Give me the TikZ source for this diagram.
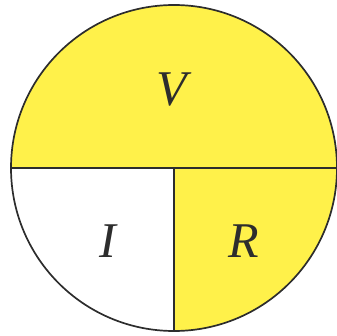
\documentclass[tikz,border=0pt]{standalone}
\usepackage{fontspec}
\setmainfont{Liberation Serif}
\usepackage{tikz}
\usetikzlibrary{positioning, calc}

\definecolor{sunyellow}{RGB}{255,241,74}
\definecolor{rimgray}{RGB}{45,45,45}

\begin{document}
\begin{tikzpicture}[x=1pt, y=1pt]
    % fixed page size
    \useasboundingbox (0, 0) rectangle (337, 335);

    \coordinate (o) at (174, 167);
    \pgfmathsetmacro{\rad}{163}

    % top half (V) and lower right quarter (R)
    \fill[sunyellow] ($(o)+(\rad,0)$) arc (0:180:\rad) -- cycle;
    \fill[sunyellow] (o) -- ($(o)+(\rad,0)$) arc (0:-90:\rad) -- cycle;

    % outline and dividers
    \draw[rimgray, line width=1.7pt] (o) circle (\rad);
    \draw[rimgray, line width=1.7pt] ($(o)+(-\rad,0)$) -- ($(o)+(\rad,0)$);
    \draw[rimgray, line width=1.7pt] (o) -- ($(o)+(0,-\rad)$);

    \node[font=\fontsize{50}{52}\selectfont\itshape, text=rimgray] (vlabel) at (172, 245) {V};
    \node[font=\fontsize{50}{52}\selectfont\itshape, text=rimgray] (ilabel) at (108, 94) {I};
    \node[font=\fontsize{50}{52}\selectfont\itshape, text=rimgray] (rlabel) at (244, 94) {R};

\end{tikzpicture}
\end{document}
